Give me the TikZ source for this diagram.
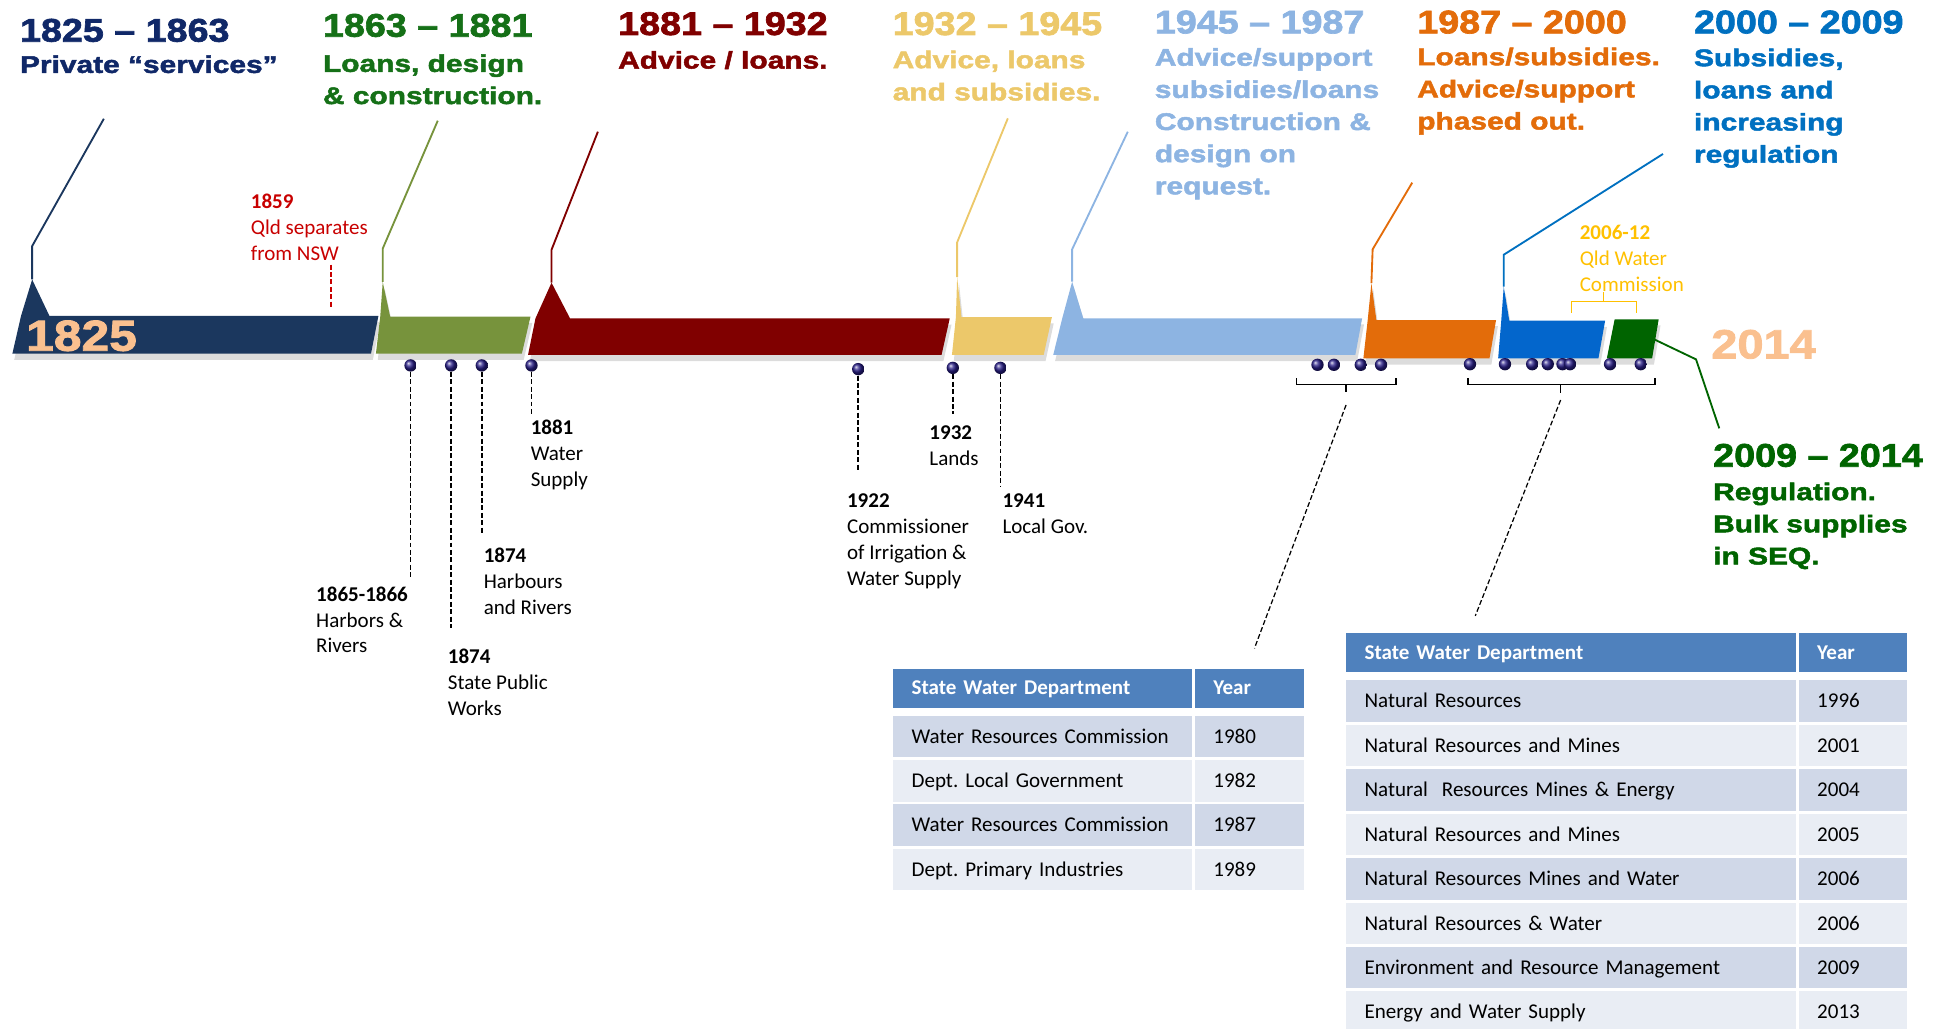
\documentclass[tikz,border=0pt]{standalone}
\usepackage{fontspec}
\setmainfont{Carlito}
\newfontfamily\headfont{Liberation Sans Bold}[FakeStretch=1.15,FakeBold=2]
\newfontfamily\subfont{Liberation Sans Bold}[FakeStretch=1.24,FakeBold=2]
\usetikzlibrary{shadows}
\frenchspacing

\definecolor{navytxt}{RGB}{16,40,104}
\definecolor{navybar}{RGB}{27,55,94}
\definecolor{greentxt}{RGB}{21,112,23}
\definecolor{greenbar}{RGB}{119,147,60}
\definecolor{redbar}{RGB}{128,0,0}
\definecolor{yellowbar}{RGB}{236,200,106}
\definecolor{lbluebar}{RGB}{141,180,226}
\definecolor{orangebar}{RGB}{227,108,10}
\definecolor{bluebar}{RGB}{3,102,204}
\definecolor{bluetxt}{RGB}{0,112,192}
\definecolor{dgreenbar}{RGB}{0,100,0}
\definecolor{peach}{RGB}{250,192,143}
\definecolor{sepred}{RGB}{200,0,0}
\definecolor{qwcyellow}{RGB}{255,192,0}
\definecolor{dotblue}{RGB}{40,30,135}
\definecolor{headblue}{RGB}{79,129,189}
\definecolor{rowdark}{RGB}{208,216,232}
\definecolor{rowlight}{RGB}{233,237,244}

\begin{document}
\begin{tikzpicture}[x=1pt,y=-1pt,
        yearhead/.style={anchor=base west,inner sep=0pt,font=\headfont\fontsize{26.5}{30}\selectfont},
        subhead/.style={anchor=north west,inner sep=0pt,align=left,font=\subfont\fontsize{19.5}{26}\selectfont},
        bignum/.style={anchor=base west,inner sep=0pt,text=peach,font=\headfont\fontsize{35}{40}\selectfont},
        bar/.style={drop shadow={shadow xshift=1.5pt,shadow yshift=-5pt,opacity=.28}},
        pointer/.style={line width=1.5pt},
        dot/.style={circle,ball color=dotblue,minimum size=10pt,inner sep=0pt},
        event/.style={anchor=north west,inner sep=0pt,align=left,font=\fontsize{17}{21}\selectfont},
        leader/.style={dash pattern=on 4pt off 2pt,line width=1.2pt},
        brace/.style={line width=1.2pt},
        cell/.style={anchor=north west,minimum height=33.5pt,inner xsep=15pt,inner ysep=0pt,
                     text height=11pt,text depth=0pt,align=left,font=\fontsize{17}{20}\selectfont},
        headcell/.style={cell,minimum height=31.5pt,fill=headblue,text=white,font=\bfseries\fontsize{17}{20}\selectfont}]
    \useasboundingbox (0,0) rectangle (1568,832);

    % the bars
    \fill[navybar,bar] (10,286) -- (17,255.5) -- (26,226) coordinate (pk1) -- (40,255.5) -- (306,255.5) -- (300,286) -- cycle;
    \fill[greenbar,bar] (304,286) -- (307.5,256) -- (309.5,228) coordinate (pk2) -- (315.5,256) -- (429,256) -- (422,286) -- cycle;
    \fill[redbar,bar] (427,287) -- (433,257.5) -- (446,228.6) coordinate (pk3) -- (461,257.5) -- (768,257.5) -- (761.4,287) -- cycle;
    \fill[yellowbar,bar] (769.8,287) -- (773,256.5) -- (774,224) coordinate (pk4) -- (777.5,256.5) -- (850.6,256.5) -- (844,287) -- cycle;
    \fill[lbluebar,bar] (851.7,287) -- (859,257.4) -- (867,227.8) coordinate (pk5) -- (876,257.4) -- (1101.5,257.4) -- (1096,287) -- cycle;
    \fill[orangebar,bar] (1102.5,289.8) -- (1106,258.8) -- (1109,229) coordinate (pk6) -- (1113,258.8) -- (1209.8,258.8) -- (1204.5,289.8) -- cycle;
    \fill[bluebar,bar] (1211.5,289.8) -- (1214,259.3) -- (1216,231.8) coordinate (pk7) -- (1220.5,259.3) -- (1298,259.3) -- (1292.6,289.8) -- cycle;
    \fill[dgreenbar,bar] (1299.4,289.8) -- (1305.7,258.2) -- (1341.3,258.2) -- (1336,289.8) -- cycle;
    \coordinate (pk8) at (1337.6,274.4);

    \node[bignum] (n1825) at (21,283.6) {1825};
    \node[bignum,font=\headfont\fontsize{33}{38}\selectfont] (n2014) at (1383.7,289.8) {2014};

    % pointers up to the periods
    \foreach \c/\i/\kx/\ky/\ex/\ey in {navybar/1/26/199/84/96, greenbar/2/309.5/201/354/97.6,
            redbar/3/446/202/483.5/106.5, yellowbar/4/774/196/815/95.7, lbluebar/5/867/201.6/912/106.5,
            orangebar/6/1110/201.6/1142/147.7, bluetxt/7/1216/206/1344.8/124.5, dgreenbar/8/1371.5/290.6/1390.3/346.4}{
        \coordinate (kn\i) at (\kx,\ky);
        \coordinate (tp\i) at (\ex,\ey);
        \draw[pointer,\c] (pk\i) -- (kn\i) -- (tp\i);
    }

    \node[yearhead,navytxt] (y1) at (16,33.7) {1825 – 1863};
    \node[subhead,navytxt] (s1) at (16,44.6) {Private “services”};
    \node[yearhead,greentxt] (y2) at (261,29.7) {1863 – 1881};
    \node[subhead,greentxt] (s2) at (261,43.8) {Loans, design\\\& construction.};
    \node[yearhead,redbar] (y3) at (499.7,28.3) {1881 – 1932};
    \node[subhead,redbar] (s3) at (499.7,41.1) {Advice / loans.};
    \node[yearhead,yellowbar] (y4) at (721.7,28.3) {1932 – 1945};
    \node[subhead,yellowbar] (s4) at (721.7,40.8) {Advice, loans\\and subsidies.};
    \node[yearhead,lbluebar] (y5) at (933.7,27) {1945 – 1987};
    \node[subhead,lbluebar] (s5) at (933.7,38.8) {Advice/support\\subsidies/loans\\Construction \&\\design on\\request.};
    \node[yearhead,orangebar] (y6) at (1145.9,27) {1987 – 2000};
    \node[subhead,orangebar] (s6) at (1145.9,38.4) {Loans/subsidies.\\Advice/support\\phased out.};
    \node[yearhead,bluetxt] (y7) at (1369.7,27) {2000 – 2009};
    \node[subhead,bluetxt] (s7) at (1369.7,39.2) {Subsidies,\\loans and\\increasing\\regulation};
    \node[yearhead,dgreenbar] (y8) at (1385.2,377.4) {2009 – 2014};
    \node[subhead,dgreenbar] (s8) at (1385.2,390.1) {Regulation.\\Bulk supplies\\in SEQ.};

    % separation and the water commission
    \node[event,sepred] (sep) at (202.7,156.5) {\textbf{1859}\\Qld separates\\from NSW};
    \draw[leader,sepred,line width=.9pt] (267.7,214) coordinate (sp1) -- (267.7,249) coordinate (sp2);
    \node[event,qwcyellow] (qwc) at (1277.3,182.1) {\textbf{2006-12}\\Qld Water\\Commission};
    \draw[brace,qwcyellow] (1271,252.8) -- (1271,244) -- (1323.5,244) -- (1323.5,252.8);
    \draw[brace,qwcyellow] (1296.8,244) -- (1296.8,236);

    % events
    \foreach \x/\y [count=\i] in {332/295.5, 364.8/295.5, 389.6/295.5, 429.8/295.5, 694/298.5, 770.5/297.5,
            809/297.5, 1065.4/295, 1078.7/295, 1100.4/295, 1116.8/295, 1188.7/294.5, 1217/294.5,
            1239/294.5, 1251.6/294.5, 1263.5/294.5, 1269.6/294.5, 1302/294.5, 1326.8/294.5}
        \node[dot] (d\i) at (\x,\y) {};
    \foreach \i/\y in {1/466.3, 2/508, 3/432.6, 4/335.6, 5/381.4, 6/334.8, 7/393.6}
        \draw[leader] (d\i.south) -- (d\i |- 0,\y);

    \node[event] (l1) at (255.5,474.1) {\textbf{1865-1866}\\Harbors \&\\Rivers};
    \node[event] (l2) at (362,524.5) {\textbf{1874}\\State Public\\Works};
    \node[event] (l3) at (391,442.8) {\textbf{1874}\\Harbours\\and Rivers};
    \node[event] (l4) at (429,339.3) {\textbf{1881}\\Water\\Supply};
    \node[event] (l5) at (684.8,399.1) {\textbf{1922}\\Commissioner\\of Irrigation \&\\Water Supply};
    \node[event] (l6) at (751.4,343.8) {\textbf{1932}\\Lands};
    \node[event] (l7) at (810.5,399.1) {\textbf{1941}\\Local Gov.};

    % brackets to the tables
    \draw[brace] (1048.4,306) -- (1048.4,311) -- (1128.9,311) -- (1128.9,306);
    \draw[brace] (1088.5,311) -- (1088.5,317);
    \draw[brace] (1187,306) -- (1187,311) -- (1338.4,311) -- (1338.4,306);
    \draw[brace] (1262,311) -- (1262,317.5);
    \coordinate (bk1) at (1088.5,327.5);
    \coordinate (tb1) at (1014.4,524.3);
    \coordinate (bk2) at (1262,323.5);
    \coordinate (tb2) at (1193,498);
    \draw[leader,line width=1pt] (bk1) -- (tb1);
    \draw[leader,line width=1pt] (bk2) -- (tb2);

    % table 1
    \node[headcell,text width=212pt] (a0) at (722,540.5) {State Water Department};
    \node[headcell,text width=58pt] (b0) at (966,540.5) {Year};
    \foreach \dep/\yr/\fl [count=\i] in {Water Resources Commission/1980/rowdark,
            Dept. Local Government/1982/rowlight, Water Resources Commission/1987/rowdark,
            Dept. Primary Industries/1989/rowlight}{
        \node[cell,fill=\fl,text width=212pt] (a\i) at (722,542.9+35.8*\i) {\dep};
        \node[cell,fill=\fl,text width=58pt] (b\i) at (966,542.9+35.8*\i) {\yr};
    }

    % table 2
    \node[headcell,minimum height=31.4pt,text width=333.5pt] (c0) at (1088.3,511.6) {State Water Department};
    \node[headcell,minimum height=31.4pt,text width=57.5pt] (e0) at (1454.3,511.6) {Year};
    \foreach \dep/\yr/\fl [count=\i] in {Natural Resources/1996/rowdark,
            Natural Resources and Mines/2001/rowlight, Natural\ \ Resources Mines \& Energy/2004/rowdark,
            Natural Resources and Mines/2005/rowlight, Natural Resources Mines and Water/2006/rowdark,
            Natural Resources \& Water/2006/rowlight, Environment and Resource Management/2009/rowdark,
            Energy and Water Supply/2013/rowlight}{
        \node[cell,fill=\fl,text width=333.5pt] (c\i) at (1088.3,514.07+35.93*\i) {\dep};
        \node[cell,fill=\fl,text width=57.5pt] (e\i) at (1454.3,514.07+35.93*\i) {\yr};
    }
\end{tikzpicture}
\end{document}
